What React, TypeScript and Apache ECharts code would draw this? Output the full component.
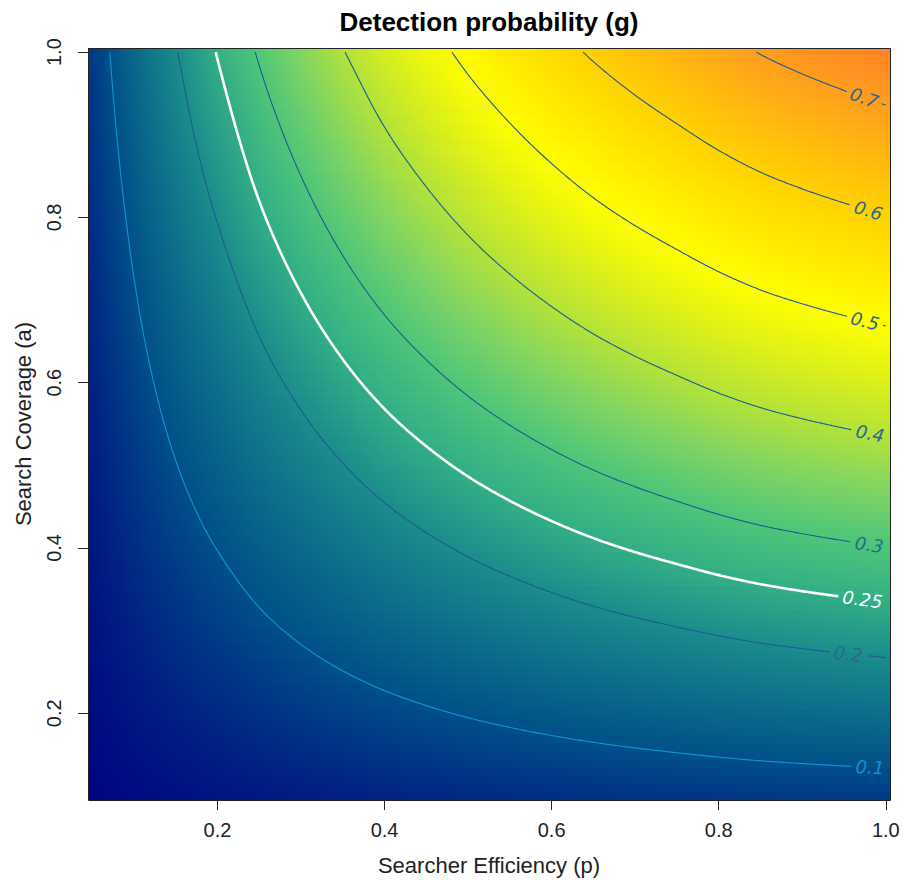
import React, { useEffect, useRef } from "react";
import * as echarts from "echarts";

// Searcher efficiency (p) knots and detection probability read along the top edge (a = 1)
const efficiency = [0.05, 0.075, 0.1, 0.125, 0.15, 0.175, 0.2, 0.25, 0.3, 0.35, 0.4, 0.45, 0.5, 0.55, 0.6, 0.65, 0.7, 0.75, 0.8, 0.85, 0.9, 0.95, 1.0];
const gAtFullCoverage = [0.0716, 0.1053, 0.1375, 0.1683, 0.1977, 0.2256, 0.2522, 0.305, 0.353, 0.398, 0.44, 0.478, 0.514, 0.547, 0.578, 0.607, 0.633, 0.657, 0.681, 0.702, 0.719, 0.734, 0.748];
// Search coverage (a) rows of the image grid (0.10 … 1.00, step 0.01)
const coverageRows = Array.from({ length: 91 }, (_, i) => (10 + i) / 100);
// Contour levels and where their labels sit (p)
const contourLevels = [0.1, 0.2, 0.25, 0.3, 0.4, 0.5, 0.6, 0.7];
const contourLabels = ["0.1", "0.2", "0.25", "0.3", "0.4", "0.5", "0.6", "0.7"];
const labelEfficiency = [0.981, 0.955, 0.972, 0.98, 0.981, 0.975, 0.979, 0.974];
const xTicks = [0.2, 0.4, 0.6, 0.8, 1.0];
const yTicks = [0.2, 0.4, 0.6, 0.8, 1.0];

const X_MIN = 0.045;
const X_MAX = 1.005;
const Y_MIN = 0.095;
const Y_MAX = 1.005;
const CELL_HALF = 0.005;

const paletteStops = [0, 0.1, 0.2, 0.25, 0.3, 0.35, 0.4, 0.45, 0.5, 0.6, 0.7, 0.8];
const paletteColors = ["#000080", "#005088", "#1A8C8C", "#32AE86", "#4CC57A", "#7FD464", "#B3E23A", "#DDF018", "#FFFF00", "#FFD200", "#FF9E1E", "#FF6A2E"];

const lineColorFor = (level: number) => (level === 0.25 ? "#FFFFFF" : level === 0.1 ? "#0E96CF" : "#1D5C92");
const textColorFor = (level: number) => (level === 0.25 ? "#FFFFFF" : level === 0.1 ? "#1A8CC8" : "#286A8E");
const lineWidthFor = (level: number) => (level === 0.25 ? 2.6 : 1.1);

const hexRgb = (h: string) => {
  const n = parseInt(h.slice(1), 16);
  return [(n >> 16) & 255, (n >> 8) & 255, n & 255];
};
const paletteRgb = paletteColors.map(hexRgb);
function palette(g: number): string {
  const s = paletteStops;
  const c = paletteRgb;
  if (g <= s[0]) return `rgb(${c[0].join(",")})`;
  for (let i = 1; i < s.length; i++) {
    if (g <= s[i]) {
      const t = (g - s[i - 1]) / (s[i] - s[i - 1]);
      const r = c[i - 1].map((v, k) => Math.round(v + (c[i][k] - v) * t));
      return `rgb(${r.join(",")})`;
    }
  }
  return `rgb(${c[c.length - 1].join(",")})`;
}

// centripetal Catmull-Rom through pixel knots (smooth line rendering)
function smoothCurve(pts: number[][], stepPx = 1.5): number[][] {
  const n = pts.length;
  if (n < 2) return pts.slice();
  const ext = (a: number[], b: number[]) => [2 * a[0] - b[0], 2 * a[1] - b[1]];
  const d = (a: number[], b: number[]) => Math.max(1e-6, Math.hypot(a[0] - b[0], a[1] - b[1]));
  const out: number[][] = [];
  for (let i = 0; i < n - 1; i++) {
    const p0 = i === 0 ? ext(pts[0], pts[1]) : pts[i - 1];
    const p1 = pts[i];
    const p2 = pts[i + 1];
    const p3 = i + 2 < n ? pts[i + 2] : ext(pts[n - 1], pts[n - 2]);
    const t0 = 0;
    const t1 = t0 + Math.sqrt(d(p0, p1));
    const t2 = t1 + Math.sqrt(d(p1, p2));
    const t3 = t2 + Math.sqrt(d(p2, p3));
    const steps = Math.max(4, Math.ceil(d(p1, p2) / stepPx));
    for (let s = 0; s < steps; s++) {
      const t = t1 + ((t2 - t1) * s) / steps;
      const lerp = (a: number[], b: number[], ta: number, tb: number) => [
        ((tb - t) / (tb - ta)) * a[0] + ((t - ta) / (tb - ta)) * b[0],
        ((tb - t) / (tb - ta)) * a[1] + ((t - ta) / (tb - ta)) * b[1],
      ];
      const A1 = lerp(p0, p1, t0, t1);
      const A2 = lerp(p1, p2, t1, t2);
      const A3 = lerp(p2, p3, t2, t3);
      const B1 = lerp(A1, A2, t0, t2);
      const B2 = lerp(A2, A3, t1, t3);
      out.push(lerp(B1, B2, t1, t2));
    }
  }
  out.push(pts[n - 1]);
  return out;
}

function clipAbove(points: number[][], topY: number): number[][] {
  const out: number[][] = [];
  for (let i = 0; i < points.length; i++) {
    const p = points[i];
    if (p[1] >= topY) {
      if (out.length === 0 && i > 0) {
        const q = points[i - 1];
        const t = (topY - q[1]) / (p[1] - q[1]);
        out.push([q[0] + t * (p[0] - q[0]), topY]);
      }
      out.push(p);
    }
  }
  return out;
}

export default function App() {
  const ref = useRef<HTMLDivElement>(null);

  useEffect(() => {
    document.body.style.margin = "0";
    if (!ref.current) return;
    const chart = echarts.init(ref.current, undefined, { renderer: "svg" });

    const fieldSeries = {
      type: "custom",
      coordinateSystem: "cartesian2d",
      silent: true,
      clip: true,
      data: coverageRows.map((a) => [0.5, a]),
      encode: { x: 0, y: 1 },
      renderItem: (_params: any, api: any) => {
        const a = api.value(1) as number;
        const tl = api.coord([X_MIN, a + CELL_HALF]);
        const br = api.coord([X_MAX, a - CELL_HALF]);
        const last = gAtFullCoverage.length - 1;
        const stops: { offset: number; color: string }[] = [{ offset: 0, color: palette(a * gAtFullCoverage[0]) }];
        efficiency.forEach((p, k) => {
          stops.push({ offset: (p - X_MIN) / (X_MAX - X_MIN), color: palette(a * gAtFullCoverage[k]) });
        });
        stops.push({ offset: 1, color: palette(a * gAtFullCoverage[last]) });
        return {
          type: "rect",
          shape: { x: tl[0], y: tl[1], width: br[0] - tl[0], height: br[1] - tl[1] + 0.8 },
          style: { fill: new echarts.graphic.LinearGradient(0, 0, 1, 0, stops) },
        };
      },
    };

    const contourSeries = {
      type: "custom",
      coordinateSystem: "cartesian2d",
      silent: true,
      data: contourLevels.map((c, i) => [0.5, c, i]),
      encode: { x: 0, y: 1 },
      z: 3,
      renderItem: (_params: any, api: any) => {
        const idx = api.value(2) as number;
        const level = contourLevels[idx];
        const aVals = efficiency.map((_p, k) => level / gAtFullCoverage[k]);
        let first = aVals.findIndex((a) => a <= 1.0);
        if (first > 0) first -= 1;
        const knots: number[][] = [];
        for (let k = Math.max(0, first); k < efficiency.length; k++) knots.push(api.coord([efficiency[k], aVals[k]]));
        const dense = smoothCurve(knots);
        const topY = api.coord([0.5, 1.0])[1];
        const clipped = clipAbove(dense, topY);

        // label position on the curve
        const lx = api.coord([labelEfficiency[idx], 0.5])[0];
        let j = clipped.length - 2;
        for (let i = 0; i < clipped.length - 1; i++) {
          if (clipped[i][0] <= lx && clipped[i + 1][0] >= lx) { j = i; break; }
        }
        const pA = clipped[j];
        const pB = clipped[j + 1];
        const tt = pB[0] === pA[0] ? 0 : (lx - pA[0]) / (pB[0] - pA[0]);
        const cx = pA[0] + tt * (pB[0] - pA[0]);
        const cy = pA[1] + tt * (pB[1] - pA[1]);
        const q0 = clipped[Math.max(0, j - 4)];
        const q1 = clipped[Math.min(clipped.length - 1, j + 5)];
        const ang = Math.atan2(q1[1] - q0[1], q1[0] - q0[0]);

        const label = contourLabels[idx];
        const fontSize = 18;
        const digits = label.replace(".", "").length;
        const halfW = (fontSize * (0.636 * digits + 0.318)) / 2;
        const r = halfW + 4;

        const runs: number[][][] = [];
        let cur: number[][] = [];
        for (const pt of clipped) {
          if (Math.hypot(pt[0] - cx, pt[1] - cy) < r) {
            if (cur.length > 1) runs.push(cur);
            cur = [];
          } else cur.push(pt);
        }
        if (cur.length > 1) runs.push(cur);

        const children: any[] = runs.map((run) => ({
          type: "polyline",
          shape: { points: run },
          style: { stroke: lineColorFor(level), lineWidth: lineWidthFor(level), fill: null, lineJoin: "round" },
        }));
        children.push({
          type: "text",
          x: cx,
          y: cy,
          rotation: -ang,
          style: {
            text: label,
            fill: textColorFor(level),
            fontSize,
            fontFamily: "DejaVu Sans",
            fontStyle: "italic",
            align: "center",
            verticalAlign: "middle",
          },
        });
        return { type: "group", children };
      },
    };

    const frameSeries = {
      type: "custom",
      coordinateSystem: "cartesian2d",
      silent: true,
      data: [[0.5, 0.5]],
      encode: { x: 0, y: 1 },
      z: 5,
      renderItem: (_params: any, api: any) => {
        const tl = api.coord([X_MIN, Y_MAX]);
        const br = api.coord([X_MAX, Y_MIN]);
        return {
          type: "rect",
          shape: { x: Math.round(tl[0]) + 0.5, y: Math.round(tl[1]) + 0.5, width: Math.round(br[0] - tl[0]), height: Math.round(br[1] - tl[1]) },
          style: { stroke: "#222222", lineWidth: 1, fill: null },
        };
      },
    };

    const fontFamily = "Liberation Sans, Arial, sans-serif";
    const tickFont = { fontSize: 20, color: "#222222", fontFamily };

    chart.setOption({
      animation: false,
      backgroundColor: "#FFFFFF",
      grid: { left: 88, right: 14, top: 48, bottom: 80, show: false, outerBoundsMode: "none" },
      graphic: [
        {
          type: "text",
          x: 489,
          y: 22,
          style: {
            text: "Detection probability (g)",
            fontSize: 26,
            fontWeight: "bold",
            fontFamily,
            fill: "#000000",
            align: "center",
            verticalAlign: "middle",
          },
        },
      ],
      xAxis: {
        type: "value",
        min: X_MIN,
        max: X_MAX,
        axisLine: { show: false },
        splitLine: { show: false },
        axisTick: { show: true, customValues: xTicks, length: 10, lineStyle: { color: "#222222" } },
        axisLabel: { ...tickFont, customValues: xTicks, margin: 20, formatter: (v: number) => v.toFixed(1) },
        name: "Searcher Efficiency (p)",
        nameLocation: "middle",
        nameGap: 54,
        nameTextStyle: { fontSize: 22, color: "#222222", fontFamily },
      },
      yAxis: {
        type: "value",
        min: Y_MIN,
        max: Y_MAX,
        axisLine: { show: false },
        splitLine: { show: false },
        axisTick: { show: true, customValues: yTicks, length: 10, lineStyle: { color: "#222222" } },
        axisLabel: { ...tickFont, customValues: yTicks, rotate: 90, margin: 24, formatter: (v: number) => v.toFixed(1) },
        name: "Search Coverage (a)",
        nameLocation: "middle",
        nameRotate: 90,
        nameGap: 54,
        nameTextStyle: { fontSize: 22, color: "#222222", fontFamily },
      },
      series: [fieldSeries, contourSeries, frameSeries],
    });

    return () => chart.dispose();
  }, []);

  return <div ref={ref} style={{ width: 904, height: 880 }} />;
}
